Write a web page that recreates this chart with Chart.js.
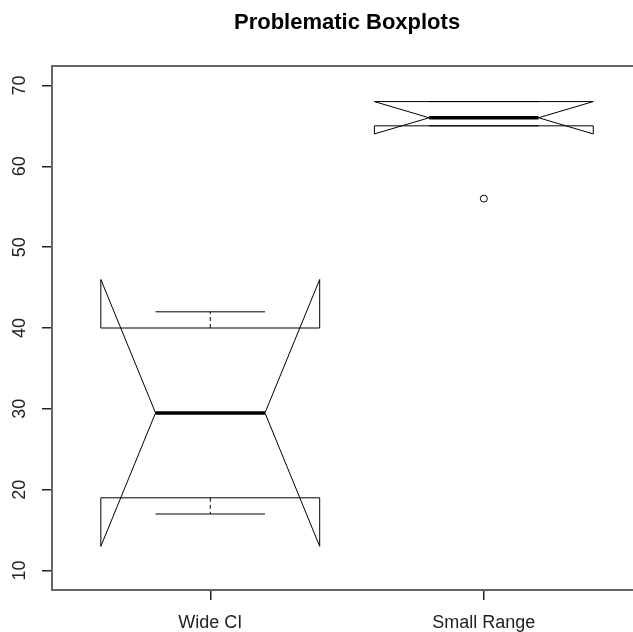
<!DOCTYPE html>
<html>
<head>
<meta charset="utf-8">
<script src="https://cdn.jsdelivr.net/npm/chart.js@4"></script>
<style>
  html, body { margin: 0; padding: 0; background: #fff; overflow: hidden; }
  #wrap { width: 633px; height: 632px; position: relative; }
</style>
</head>
<body>
<div id="wrap"><canvas id="box-chart"></canvas></div>
<script>
// boxplot values
const categories = ["Wide CI", "Small Range"];
const whiskerLow = [17, 65];
const lowerHinge = [19, 65];
const medians = [29.5, 66];
const upperHinge = [40, 68];
const whiskerHigh = [42, 68];
const notchLow = [13, 64];
const notchHigh = [46, 68];
const outliers = [[], [56]];
const yTicks = [10, 20, 30, 40, 50, 60, 70];

const FONT = "'Liberation Sans', Arial, sans-serif";

const boxPlugin = {
    id: 'boxes',
    afterDatasetsDraw(chart) {
        const ctx = chart.ctx;
        const x = chart.scales.x, y = chart.scales.y;
        const area = chart.chartArea;
        ctx.save();
        ctx.strokeStyle = '#000';
        categories.forEach(function(cat, i) {
            const c = i + 1;
            const px = v => x.getPixelForValue(v);
            const py = v => y.getPixelForValue(v);
            const w = 0.4, h = 0.2;
            // notched box outline
            ctx.lineWidth = 1;
            ctx.setLineDash([]);
            ctx.beginPath();
            ctx.moveTo(px(c - w), py(lowerHinge[i]));
            ctx.lineTo(px(c - w), py(notchLow[i]));
            ctx.lineTo(px(c - h), py(medians[i]));
            ctx.lineTo(px(c - w), py(notchHigh[i]));
            ctx.lineTo(px(c - w), py(upperHinge[i]));
            ctx.lineTo(px(c + w), py(upperHinge[i]));
            ctx.lineTo(px(c + w), py(notchHigh[i]));
            ctx.lineTo(px(c + h), py(medians[i]));
            ctx.lineTo(px(c + w), py(notchLow[i]));
            ctx.lineTo(px(c + w), py(lowerHinge[i]));
            ctx.closePath();
            ctx.stroke();
            // whiskers
            ctx.setLineDash([4, 3]);
            ctx.beginPath();
            ctx.moveTo(px(c), py(upperHinge[i]));
            ctx.lineTo(px(c), py(whiskerHigh[i]));
            ctx.moveTo(px(c), py(lowerHinge[i]));
            ctx.lineTo(px(c), py(whiskerLow[i]));
            ctx.stroke();
            ctx.setLineDash([]);
            ctx.beginPath();
            ctx.moveTo(px(c - h), py(whiskerHigh[i]));
            ctx.lineTo(px(c + h), py(whiskerHigh[i]));
            ctx.moveTo(px(c - h), py(whiskerLow[i]));
            ctx.lineTo(px(c + h), py(whiskerLow[i]));
            ctx.stroke();
            // median
            ctx.lineWidth = 3.5;
            ctx.beginPath();
            ctx.moveTo(px(c - h), py(medians[i]));
            ctx.lineTo(px(c + h), py(medians[i]));
            ctx.stroke();
        });

        // frame (right side falls off the page)
        ctx.lineWidth = 2;
        ctx.strokeStyle = '#666';
        ctx.beginPath();
        ctx.moveTo(chart.width + 20, area.top);
        ctx.lineTo(area.left, area.top);
        ctx.lineTo(area.left, area.bottom);
        ctx.lineTo(chart.width + 20, area.bottom);
        ctx.stroke();

        // y tick labels, rotated like R
        ctx.fillStyle = '#222';
        ctx.font = '18px ' + FONT;
        ctx.textAlign = 'center';
        ctx.textBaseline = 'alphabetic';
        yTicks.forEach(function(v) {
            ctx.save();
            ctx.translate(25, y.getPixelForValue(v));
            ctx.rotate(-Math.PI / 2);
            ctx.fillText(String(v), 0, 0);
            ctx.restore();
        });

        // title centred over the full plot region
        ctx.fillStyle = '#000';
        ctx.font = 'bold 22px ' + FONT;
        ctx.fillText('Problematic Boxplots', (x.getPixelForValue(0.42) + x.getPixelForValue(2.58)) / 2, 29);
        ctx.restore();
    }
};

new Chart(document.getElementById("box-chart"), {
    type: 'scatter',
    data: {
        datasets: [{
            label: 'outliers',
            data: outliers.flatMap((list, i) => list.map(v => ({ x: i + 1, y: v }))),
            pointStyle: 'circle',
            pointRadius: 3.5,
            borderColor: '#000',
            borderWidth: 1,
            backgroundColor: 'rgba(0,0,0,0)'
        }]
    },
    options: {
        responsive: true,
        maintainAspectRatio: false,
        animation: false,
        layout: { padding: { top: 66, right: 0, left: 0, bottom: 0 } },
        plugins: {
            legend: { display: false },
            tooltip: { enabled: false }
        },
        scales: {
            x: {
                type: 'linear',
                min: 0.4215,
                max: 2.527,
                afterBuildTicks: s => { s.ticks = categories.map((c, i) => ({ value: i + 1 })); },
                afterFit: s => { s.height = 42; },
                ticks: {
                    callback: (v) => categories[v - 1],
                    font: { size: 18, family: FONT },
                    color: '#222',
                    padding: 12,
                    maxRotation: 0
                },
                grid: { drawOnChartArea: false, drawTicks: true, tickLength: 10, color: '#222', lineWidth: 1.5 },
                border: { display: false }
            },
            y: {
                min: 7.6,
                max: 72.4,
                afterBuildTicks: s => { s.ticks = yTicks.map(v => ({ value: v })); },
                afterFit: s => { s.width = 52; },
                ticks: { display: false },
                grid: { drawOnChartArea: false, drawTicks: true, tickLength: 10, color: '#222', lineWidth: 1.5 },
                border: { display: false }
            }
        }
    },
    plugins: [boxPlugin]
});
</script>
</body>
</html>
